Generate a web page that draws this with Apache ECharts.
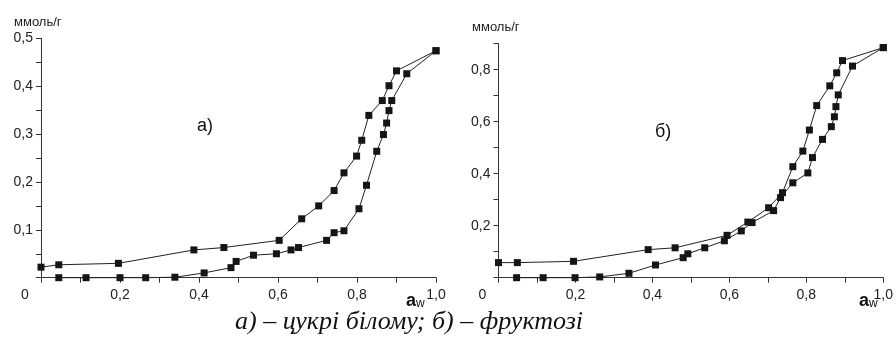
<!DOCTYPE html>
<html>
<head>
<meta charset="utf-8">
<script src="https://cdn.jsdelivr.net/npm/echarts@6/dist/echarts.min.js"></script>
<style>
html,body{margin:0;padding:0;background:#fff;}
#chart{width:896px;height:355px;}
</style>
</head>
<body>
<div id="chart"></div>
<script>
// (а) sugar: desorption (upper) and adsorption (lower) branches
var aDesX = [0, 0.045, 0.196, 0.387, 0.463, 0.603, 0.660, 0.703, 0.742, 0.767, 0.799, 0.812, 0.830, 0.864, 0.881, 0.900, 1.0];
var aDesY = [0.022, 0.027, 0.030, 0.058, 0.063, 0.078, 0.123, 0.150, 0.182, 0.219, 0.254, 0.287, 0.339, 0.370, 0.401, 0.432, 0.474];
var aAdsX = [0.045, 0.114, 0.200, 0.265, 0.339, 0.413, 0.481, 0.494, 0.538, 0.596, 0.633, 0.652, 0.723, 0.742, 0.767, 0.805, 0.824, 0.850, 0.867, 0.875, 0.881, 0.888, 0.926, 1.0];
var aAdsY = [0, 0, 0, 0, 0.001, 0.010, 0.021, 0.034, 0.047, 0.050, 0.058, 0.063, 0.078, 0.094, 0.098, 0.144, 0.193, 0.264, 0.299, 0.323, 0.349, 0.370, 0.426, 0.474];
// (б) fructose
var bDesX = [0, 0.049, 0.195, 0.389, 0.459, 0.594, 0.648, 0.702, 0.738, 0.765, 0.791, 0.808, 0.827, 0.861, 0.879, 0.894, 1.0];
var bDesY = [0.058, 0.058, 0.063, 0.108, 0.115, 0.163, 0.214, 0.269, 0.327, 0.427, 0.487, 0.568, 0.662, 0.738, 0.788, 0.835, 0.885];
var bAdsX = [0.047, 0.116, 0.199, 0.263, 0.339, 0.408, 0.480, 0.492, 0.536, 0.587, 0.631, 0.659, 0.715, 0.733, 0.765, 0.804, 0.816, 0.842, 0.865, 0.873, 0.877, 0.883, 0.920, 1.0];
var bAdsY = [0, 0, 0, 0.003, 0.017, 0.049, 0.077, 0.092, 0.115, 0.142, 0.180, 0.212, 0.258, 0.308, 0.365, 0.403, 0.462, 0.532, 0.581, 0.619, 0.658, 0.703, 0.814, 0.885];

var xTickLabels = ['0', '0,2', '0,4', '0,6', '0,8', '1,0'];
var yTickLabelsA = ['0,1', '0,2', '0,3', '0,4', '0,5'];
var yTickLabelsB = ['0,2', '0,4', '0,6', '0,8'];
var yUnit = 'ммоль/г';
var panelLabels = ['а)', 'б)'];
var caption = 'а) – цукрі білому; б) – фруктозі';

function pairs(xs, ys) { return xs.map(function (x, i) { return [x, ys[i]]; }); }

var AX = '#333';
var LBL = '#222';
var FONT = '"Liberation Sans", Arial, sans-serif';

function xAxis(gi) {
  return {
    type: 'value', gridIndex: gi, min: 0, max: 1, interval: 0.1,
    axisLine: { show: true, lineStyle: { color: AX, width: 1 } },
    axisTick: { show: true, length: 5, lineStyle: { color: AX } },
    splitLine: { show: false },
    axisLabel: {
      margin: 10, color: LBL, fontSize: 14, fontFamily: FONT,
      showMaxLabel: true, showMinLabel: true,
      formatter: function (v) {
        var k = Math.round(v * 10);
        if (k % 2 !== 0) return '';
        var t = xTickLabels[k / 2];
        if (k === 0) return '{z|' + t + '}';
        return t;
      },
      rich: { z: { padding: [0, 32, 0, 0], fontSize: 14, color: LBL, fontFamily: FONT } }
    }
  };
}

function yAxis(gi, max, interval, labels, step) {
  return {
    type: 'value', gridIndex: gi, min: 0, max: max, interval: interval,
    axisLine: { show: true, lineStyle: { color: AX, width: 1 } },
    axisTick: { show: true, length: 5, lineStyle: { color: AX } },
    splitLine: { show: false },
    axisLabel: {
      margin: 8, color: LBL, fontSize: 14, fontFamily: FONT,
      formatter: function (v) {
        var k = Math.round(v / step * 1000) / 1000;
        if (Math.abs(k - Math.round(k)) > 1e-6) return '';
        k = Math.round(k);
        if (k < 1 || k > labels.length) return '';
        return labels[k - 1];
      }
    }
  };
}

function line(xi, yi, data) {
  return {
    type: 'line', xAxisIndex: xi, yAxisIndex: yi, data: data,
    symbol: 'rect', symbolSize: 7, clip: false, animation: false,
    lineStyle: { color: '#222', width: 1 },
    itemStyle: { color: '#151515' }
  };
}

var chart = echarts.init(document.getElementById('chart'), null, { renderer: 'canvas' });
chart.setOption({
  backgroundColor: '#fff',
  animation: false,
  grid: [
    { left: 41, right: 460, top: 38.3, bottom: 77.3 },
    { left: 498.5, right: 4.5, top: 43.7, bottom: 77.3 }
  ],
  xAxis: [xAxis(0), xAxis(1)],
  yAxis: [
    yAxis(0, 0.5, 0.05, yTickLabelsA, 0.1),
    yAxis(1, 0.9, 0.1, yTickLabelsB, 0.2)
  ],
  series: [
    line(0, 0, pairs(aDesX, aDesY)),
    line(0, 0, pairs(aAdsX, aAdsY)),
    line(1, 1, pairs(bDesX, bDesY)),
    line(1, 1, pairs(bAdsX, bAdsY))
  ],
  graphic: [
    { type: 'text', left: 14, top: 16, style: { text: yUnit, font: '13px ' + FONT, fill: '#222' } },
    { type: 'text', left: 472, top: 21, style: { text: yUnit, font: '13px ' + FONT, fill: '#222' } },
    { type: 'text', left: 197, top: 117, style: { text: panelLabels[0], font: '18px ' + FONT, fill: '#111' } },
    { type: 'text', left: 655, top: 123, style: { text: panelLabels[1], font: '18px ' + FONT, fill: '#111' } },
    { type: 'text', left: 406, top: 292, style: { text: '{a|a}{w|w}', rich: { a: { font: 'bold 18px ' + FONT, fill: '#111' }, w: { font: '12px ' + FONT, fill: '#111', padding: [5, 0, 0, 0] } } } },
    { type: 'text', left: 859, top: 292, style: { text: '{a|a}{w|w}', rich: { a: { font: 'bold 18px ' + FONT, fill: '#111' }, w: { font: '12px ' + FONT, fill: '#111', padding: [5, 0, 0, 0] } } } },
    { type: 'text', x: 409, y: 322, style: { text: caption, align: 'center', verticalAlign: 'middle', font: 'italic 26px "Liberation Serif", "Times New Roman", serif', fill: '#111' } }
  ]
});
</script>
</body>
</html>
